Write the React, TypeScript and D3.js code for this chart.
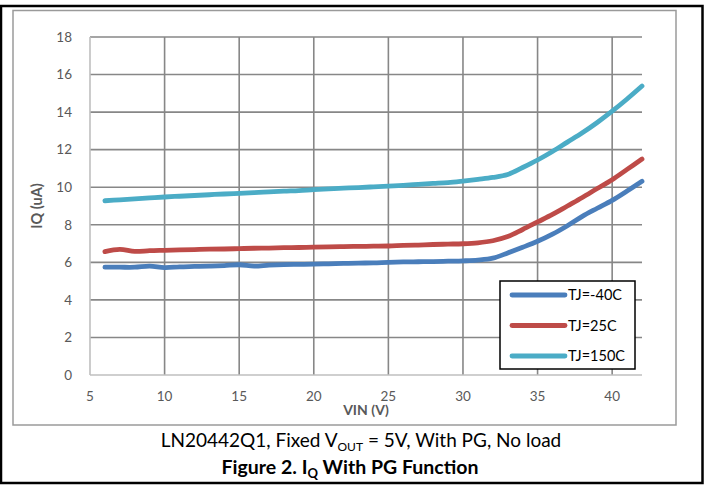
import React from "react";
import * as d3 from "d3";

const vin = [6,7,8,9,10,11,12,13,14,15,16,17,18,19,20,21,22,23,24,25,26,27,28,29,30,31,32,33,34,35,36,37,38,39,40,41,42];
const tjMinus40 = [5.74,5.74,5.74,5.8,5.72,5.76,5.78,5.8,5.83,5.87,5.8,5.85,5.88,5.89,5.9,5.92,5.94,5.96,5.97,6.0,6.02,6.03,6.04,6.06,6.08,6.12,6.22,6.5,6.8,7.12,7.5,7.95,8.45,8.88,9.3,9.8,10.32];
const tj25 = [6.57,6.69,6.58,6.62,6.64,6.66,6.68,6.7,6.71,6.73,6.75,6.76,6.78,6.79,6.81,6.82,6.84,6.85,6.86,6.87,6.9,6.92,6.95,6.97,6.99,7.04,7.15,7.37,7.75,8.15,8.55,9.0,9.45,9.93,10.4,10.95,11.5];
const tj150 = [9.28,9.33,9.38,9.43,9.48,9.52,9.56,9.6,9.64,9.67,9.71,9.75,9.79,9.82,9.87,9.91,9.95,9.98,10.02,10.06,10.1,10.15,10.2,10.25,10.33,10.42,10.52,10.68,11.05,11.45,11.9,12.4,12.9,13.45,14.05,14.7,15.39];
const seriesNames = ["TJ=-40C", "TJ=25C", "TJ=150C"];
const seriesColors = ["#4A7EBB", "#BE4B48", "#4BACC6"];
const xTicks = [5,10,15,20,25,30,35,40];
const yTicks = [0,2,4,6,8,10,12,14,16,18];

const FONT = "Lato, 'Open Sans', sans-serif";

export default function App() {
  const W = 707, H = 485;
  const x = d3.scaleLinear().domain([5, 42]).range([90, 642]);
  const y = d3.scaleLinear().domain([0, 18]).range([375, 37]);
  const allSeries = [tjMinus40, tj25, tj150];
  const line = d3.line<number>()
    .x((_, i) => x(vin[i]))
    .y((d) => y(d))
    .curve(d3.curveCatmullRom.alpha(0.5));

  return (
    <svg width={W} height={H} style={{ position: "absolute", left: 0, top: 0 }} fontFamily={FONT}>
      <rect x={0} y={0} width={W} height={H} fill="#fff" />
      {/* outer black frame */}
      <rect x={1} y={6} width={701.5} height={477} fill="none" stroke="#000" strokeWidth={2.5} />
      {/* inner chart frame */}
      <rect x={13} y={10.5} width={663} height={414.5} fill="none" stroke="#9a9a9a" strokeWidth={1.5} />

      {/* gridlines */}
      {yTicks.filter(t => t > 0).map(t => (
        <line key={"gy" + t} x1={x(5)} x2={x(42)} y1={y(t)} y2={y(t)} stroke="#878787" strokeWidth={1.6} />
      ))}
      {xTicks.filter(t => t > 5).map(t => (
        <line key={"gx" + t} x1={x(t)} x2={x(t)} y1={y(18)} y2={y(0)} stroke="#878787" strokeWidth={1.6} />
      ))}
      {/* axes */}
      <line x1={x(5)} x2={x(5)} y1={y(18)} y2={y(0)} stroke="#BFBFBF" strokeWidth={1.6} />
      <line x1={x(5)} x2={x(42)} y1={y(0)} y2={y(0)} stroke="#BFBFBF" strokeWidth={1.6} />

      {/* y tick labels */}
      {yTicks.map(t => (
        <text key={"yl" + t} x={72} y={y(t)} dy="0.35em" textAnchor="end" fontSize={13.5} fill="#595959">{t}</text>
      ))}
      {/* x tick labels */}
      {xTicks.map(t => (
        <text key={"xl" + t} x={x(t)} y={396} dy="0.35em" textAnchor="middle" fontSize={13.5} fill="#595959">{t}</text>
      ))}

      {/* axis titles */}
      <text x={366} y={410} dy="0.35em" textAnchor="middle" fontSize={14} fontWeight="bold" fill="#595959">VIN (V)</text>
      <text transform={`translate(37,${y(9)}) rotate(-90)`} dy="0.35em" textAnchor="middle" fontSize={14.5} fontWeight="bold" fill="#595959">IQ (uA)</text>

      {/* series */}
      {allSeries.map((s, i) => (
        <path key={"s" + i} d={line(s) || ""} fill="none" stroke={seriesColors[i]} strokeWidth={4.8} strokeLinecap="round" strokeLinejoin="round" />
      ))}

      {/* legend */}
      <rect x={500} y={281} width={135} height={88} fill="#fff" stroke="#000" strokeWidth={1.5} />
      {seriesNames.map((n, i) => (
        <g key={"lg" + i}>
          <line x1={512} x2={565} y1={295 + i * 30.5} y2={295 + i * 30.5} stroke={seriesColors[i]} strokeWidth={4.8} strokeLinecap="round" />
          <text x={568} y={295 + i * 30.5} dy="0.35em" fontSize={14.5} fill="#000">{n}</text>
        </g>
      ))}

      {/* captions */}
      <text x={361} y={440} dy="0.35em" textAnchor="middle" fontSize={19} fill="#000">
        LN20442Q1, Fixed V<tspan fontSize={12} dy="4">OUT</tspan><tspan dy="-4"> = 5V, With PG, No load</tspan>
      </text>
      <text x={350} y={467} dy="0.35em" textAnchor="middle" fontSize={19.5} fontWeight="bold" fill="#000">
        Figure 2. I<tspan fontSize={13} dy="4">Q</tspan><tspan dy="-4"> With PG Function</tspan>
      </text>
    </svg>
  );
}
